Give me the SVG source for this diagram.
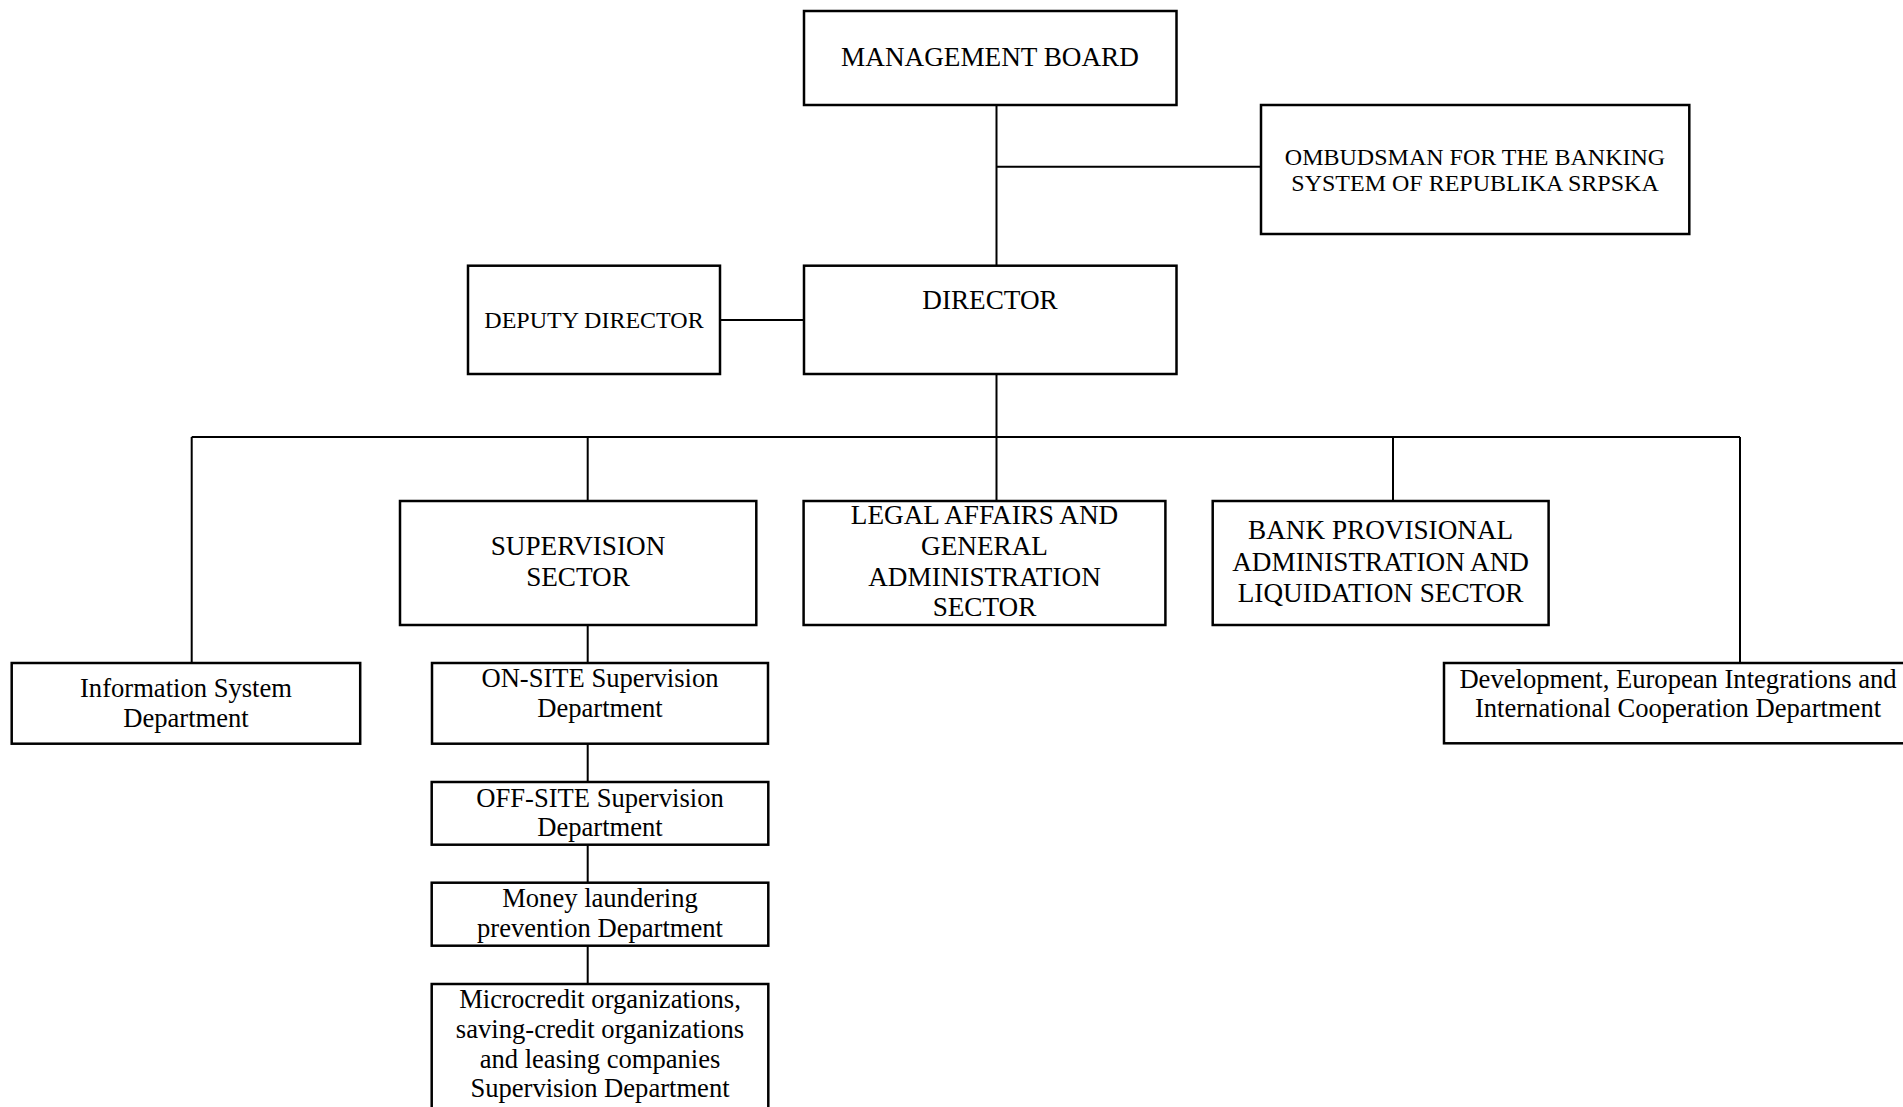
<svg xmlns="http://www.w3.org/2000/svg" width="1903" height="1107" viewBox="0 0 1903 1107">
<style>
.box{fill:#fff;stroke:#000;stroke-width:2.5}
.ln{stroke:#000;stroke-width:2;fill:none}
text{font-family:"Liberation Serif","Times New Roman",serif;font-size:26.6px;fill:#000;text-anchor:middle}
.s24{font-size:24px}
.cap{font-size:27.2px}
</style>
<rect width="1903" height="1107" fill="#fff"/>
<g id="connectors">
<path class="ln" d="M996.5 105V265.7M996.5 166.7H1261M720 320H804M996.5 374V437M191.7 437H1740M191.7 437V663M587.7 437V501M996.5 437V501M1393 437V501M1740 437V663M587.7 625V663M587.7 743.7V782M587.7 844.7V882.7M587.7 945.7V984"/>
</g>
<g id="management-board">
<rect class="box" x="804" y="11" width="372.5" height="94"/>
<text class="cap" x="990" y="66">MANAGEMENT BOARD</text>
</g>
<g id="ombudsman">
<rect class="box" x="1261" y="105" width="428.3" height="129"/>
<text class="s24" x="1475" y="165">OMBUDSMAN FOR THE BANKING</text>
<text class="s24" x="1475" y="190.7">SYSTEM OF REPUBLIKA SRPSKA</text>
</g>
<g id="deputy-director">
<rect class="box" x="468" y="265.7" width="252" height="108.3"/>
<text class="s24" x="594" y="328.3">DEPUTY DIRECTOR</text>
</g>
<g id="director">
<rect class="box" x="804" y="265.7" width="372.5" height="108.3"/>
<text class="cap" x="990" y="309.3">DIRECTOR</text>
</g>
<g id="supervision-sector">
<rect class="box" x="400" y="501" width="356.3" height="124"/>
<text class="cap" x="578" y="555">SUPERVISION</text>
<text class="cap" x="578" y="585.7">SECTOR</text>
</g>
<g id="legal-affairs">
<rect class="box" x="803.6" y="501" width="361.8" height="124"/>
<text class="cap" x="984.5" y="524">LEGAL AFFAIRS AND</text>
<text class="cap" x="984.5" y="555">GENERAL</text>
<text class="cap" x="984.5" y="585.7">ADMINISTRATION</text>
<text class="cap" x="984.5" y="616">SECTOR</text>
</g>
<g id="bank-provisional">
<rect class="box" x="1212.7" y="501" width="335.9" height="124"/>
<text class="cap" x="1380.6" y="539.3">BANK PROVISIONAL</text>
<text class="cap" x="1380.6" y="570.7">ADMINISTRATION AND</text>
<text class="cap" x="1380.6" y="601.7">LIQUIDATION SECTOR</text>
</g>
<g id="information-system">
<rect class="box" x="11.7" y="663" width="348.5" height="80.7"/>
<text x="186" y="696.7">Information System</text>
<text x="186" y="726.7">Department</text>
</g>
<g id="on-site">
<rect class="box" x="432" y="663" width="336" height="80.7"/>
<text x="600" y="686.7">ON-SITE Supervision</text>
<text x="600" y="716.7">Department</text>
</g>
<g id="development">
<rect class="box" x="1444" y="663" width="470" height="80.3"/>
<text x="1678" y="687.5">Development, European Integrations and</text>
<text x="1678" y="717">International Cooperation Department</text>
</g>
<g id="off-site">
<rect class="box" x="431.7" y="782" width="336.6" height="62.7"/>
<text x="600" y="806.7">OFF-SITE Supervision</text>
<text x="600" y="836">Department</text>
</g>
<g id="money-laundering">
<rect class="box" x="431.7" y="882.7" width="336.6" height="63"/>
<text x="600" y="907.3">Money laundering</text>
<text x="600" y="936.7">prevention Department</text>
</g>
<g id="microcredit">
<rect class="box" x="431.7" y="984" width="336.6" height="140"/>
<text x="600" y="1008.3">Microcredit organizations,</text>
<text x="600" y="1037.7">saving-credit organizations</text>
<text x="600" y="1068.3">and leasing companies</text>
<text x="600" y="1096.7">Supervision Department</text>
</g>
</svg>
